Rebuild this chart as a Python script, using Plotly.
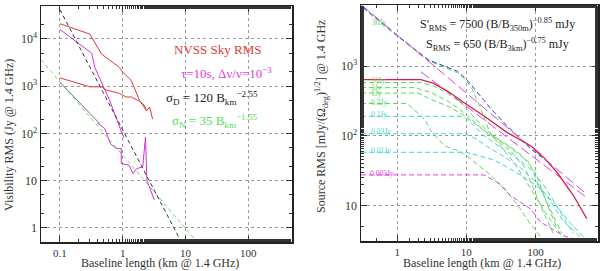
import plotly.graph_objects as go
import numpy as np

# ---------------- Left panel data ----------------
nvss_upper_x = [0.1, 0.3, 0.46, 0.89, 1.0, 1.37, 1.86, 2.37]
nvss_upper_y = [21000, 12700, 4800, 2500, 2000, 1320, 500, 310]
nvss_lower_x = [0.1, 0.3, 0.46, 0.55, 0.89, 1.13, 1.37, 1.86, 2.2, 2.4, 2.7, 3.0]
nvss_lower_y = [1500, 970, 970, 830, 705, 590, 590, 480, 400, 300, 360, 200]
tau_upper_x = [0.1, 0.32, 0.36, 0.49, 0.62, 0.98, 1.05]
tau_upper_y = [16000, 5000, 2500, 960, 500, 100, 80]
gray_x = [0.1, 0.43]
gray_y = [1210, 162]
tau_lower_x = [0.40, 0.52, 0.64, 0.79, 0.95, 0.95, 1.28, 1.45, 1.68, 2.09, 2.31, 2.37, 2.44, 3.2]
tau_lower_y = [166, 126, 60, 48, 48, 23, 21, 14, 18, 19.5, 83, 32, 10, 3.9]
sigD_x = [0.1, 8.0]
sigD_y = [42000, 0.6]
sigN_x = [0.05, 14.0]
sigN_y = [3640, 0.58]

# ---------------- Right panel data ----------------
sprime_x = [0.31, 550]
sprime_y = [7400, 14.5]
srms_x = [2.2, 550]
srms_y = [830, 13.0]
blue_x = [0.32, 0.92, 2.8, 4.8, 7.5, 10.4, 16, 23, 39, 85, 130]
blue_y = [7000, 2950, 1230, 990, 840, 620, 370, 240, 138, 65, 47]
red_x = [0.3, 2.2, 3.3, 5.4, 9.3, 18, 39, 85, 105, 131, 204, 355, 550]
red_y = [638, 638, 570, 434, 297, 192, 111, 72, 60, 49, 30, 13.8, 6.5]

flux_labels = ["30Jy", "10Jy", "3Jy", "1Jy", "0.3Jy", "0.1Jy", "0.03Jy", "0.01Jy", "0.003Jy"]
flux_x = [
    [0.32, 0.9, 2.8, 4.8, 7.5, 10, 12, 16, 22, 30, 50, 90, 150, 250],
    [0.3, 2.2, 3.5, 5.5, 9, 12, 18, 28, 45, 80, 110, 160, 240],
    [0.3, 1.8, 3, 5, 8, 12, 20, 35, 60, 100, 140, 200],
    [0.3, 2.0, 3.1, 5.4, 9, 13, 20, 28, 44, 70, 100, 130, 180],
    [0.3, 1.4, 2.5, 3.1, 4.8, 8, 10, 14, 20, 35, 60, 90, 120],
    [0.3, 9, 12, 18, 30, 50, 80, 130, 200, 350],
    [0.3, 9.5, 14, 20, 35, 60, 100, 160, 250, 450],
    [0.3, 10, 15, 25, 40, 70, 120, 200, 300, 500],
    [0.3, 18, 28, 44, 85, 118, 253, 400],
]
flux_y = [
    [6800, 2900, 1200, 950, 800, 620, 480, 250, 110, 75, 40, 16, 7, 3.5],
    [580, 580, 510, 400, 280, 200, 130, 90, 65, 42, 20, 9, 4],
    [490, 490, 420, 330, 240, 170, 110, 80, 55, 30, 12, 5],
    [410, 410, 330, 266, 200, 150, 110, 85, 60, 35, 15, 8, 4],
    [290, 290, 172, 117, 72, 60, 52, 40, 30, 18, 9, 5, 3.5],
    [190, 190, 150, 100, 70, 50, 35, 20, 10, 4],
    [107, 107, 90, 70, 50, 35, 22, 12, 6, 3.5],
    [58, 58, 52, 45, 35, 25, 17, 10, 6, 3.5],
    [27.5, 27.5, 21.5, 13.8, 8.9, 5.8, 3.7, 3.2],
]
GREEN = "#5cd85c"
CYAN = "#3fd6d6"
MAG = "#e040e0"
flux_colors = [GREEN, GREEN, GREEN, GREEN, GREEN, CYAN, CYAN, CYAN, MAG]
# label positions in pixels (style)
flux_label_px = [(371, 22), (370, 81), (370, 87.5), (370, 94), (370, 102),
                 (370, 114), (370, 131), (370, 150), (369, 173)]

FONT = "Liberation Serif"
W, H = 600, 271
TXT = "#333333"

fig = go.Figure()

def add(x, y, xa, ya, color, dash=None, width=1.0):
    fig.add_trace(go.Scatter(x=x, y=y, mode="lines", xaxis=xa, yaxis=ya,
                             line=dict(color=color, width=width, dash=dash),
                             showlegend=False, hoverinfo="skip"))

# left panel
add(sigN_x, sigN_y, "x", "y", "#66dd66", "4px,3px")
add(gray_x, gray_y, "x", "y", "#777777")
add(tau_lower_x, tau_lower_y, "x", "y", "#d830d8")
add(tau_upper_x, tau_upper_y, "x", "y", "#d830d8")
add(nvss_upper_x, nvss_upper_y, "x", "y", "#e03a3a")
add(nvss_lower_x, nvss_lower_y, "x", "y", "#e03a3a")
add(sigD_x, sigD_y, "x", "y", "#333344", "4px,3px")

# right panel
for fx, fy, c in zip(flux_x, flux_y, flux_colors):
    add(fx, fy, "x2", "y2", c, "5px,3px")
add(blue_x, blue_y, "x2", "y2", "#3344cc", "5px,3px")
add(sprime_x, sprime_y, "x2", "y2", MAG, "10px,4px")
add(srms_x, srms_y, "x2", "y2", MAG, "10px,4px")
add(red_x, red_y, "x2", "y2", "#d8204a", None, 1.3)

def axis_common(fs=12):
    return dict(type="log", showline=True, linecolor="#222", linewidth=1.5,
                mirror="allticks", ticks="inside", ticklen=6, tickcolor="#333",
                showgrid=True, gridcolor="#999", griddash="dot", gridwidth=1,
                zeroline=False, tickfont=dict(family=FONT, size=fs, color=TXT),
                minor=dict(ticks="inside", ticklen=3, tickcolor="#333", showgrid=False),
                automargin=False)

xl = axis_common(11); xl.update(domain=[41/W, 292/W], range=[np.log10(0.05), np.log10(500)],
                                tickvals=[0.1, 1, 10, 100], ticktext=["0.1", "1", "10", "100"],
                                anchor="y")
yl = axis_common(); yl.update(domain=[1-242/H, 1-6/H], range=[np.log10(0.5), np.log10(50000)],
                              tickvals=[1, 10, 100, 1000, 10000],
                              ticktext=["1", "10", "10<sup>2</sup>", "10<sup>3</sup>", "10<sup>4</sup>"],
                              anchor="x")
xr = axis_common(11); xr.update(domain=[361/W, 598/W], range=[np.log10(0.3), np.log10(800)],
                                tickvals=[1, 10, 100], ticktext=["1", "10", "100"],
                                anchor="y2")
yr = axis_common(); yr.update(domain=[1-241/H, 1-5/H], range=[np.log10(3.1), np.log10(7500)],
                              tickvals=[10, 100, 1000],
                              ticktext=["10", "10<sup>2</sup>", "10<sup>3</sup>"],
                              anchor="x2")

annotations = []
def ann(text, px, py, color, size=13, xanchor="center", angle=0, yanchor="middle"):
    annotations.append(dict(text=text, x=px/W, y=1-py/H, xref="paper", yref="paper",
                            showarrow=False, xanchor=xanchor, yanchor=yanchor,
                            textangle=angle, borderpad=0,
                            font=dict(family=FONT, size=size, color=color)))

# axis titles
ann("Baseline length (km @ 1.4 GHz)", 160, 271, TXT, 12, yanchor="bottom")
ann("Baseline length (km @ 1.4 GHz)", 482, 271, TXT, 12, yanchor="bottom")
ann("Visibility RMS (Jy @ 1.4 GHz)", 9, 135, TXT, 12, angle=-90)
ann("Source RMS [mJy/(Ω<sub>deg</sub>)<sup>1/2</sup>] @ 1.4 GHz", 322, 117, TXT, 12, angle=-90)

ann("NVSS Sky RMS", 217, 49, "#e03a3a")
ann("τ=10s, Δν/ν=10<sup>−3</sup>", 226, 73, "#e040e0")
ann("σ<sub>D</sub> = 120 B<sub>km</sub><sup>−2.55</sup>", 212, 98, "#222222")
ann("σ<sub>N</sub> = 35 B<sub>km</sub><sup>−1.55</sup>", 214, 121, "#55dd55")
ann("S'<sub>RMS</sub> = 7500 (B/B<sub>350m</sub>)<sup>−0.85</sup> mJy", 497, 25, "#222222", 12)
ann("S<sub>RMS</sub> = 650 (B/B<sub>3km</sub>)<sup>−0.75</sup> mJy", 497, 45, "#222222", 12)
for lab, (px, py), c in zip(flux_labels, flux_label_px, flux_colors):
    ann(lab, px, py, c, 7.5, "left")

fig.update_layout(width=W, height=H, margin=dict(l=0, r=0, t=0, b=0),
                  paper_bgcolor="white", plot_bgcolor="white",
                  xaxis=xl, yaxis=yl, xaxis2=xr, yaxis2=yr,
                  annotations=annotations, showlegend=False)

fig.write_html("out.html", config={"displayModeBar": False, "staticPlot": True})

# remove the default page margin so the 600x271 figure fills the window
with open("out.html", "r", encoding="utf-8") as f:
    html = f.read()
html = html.replace("<head>", "<head><style>html,body{margin:0;padding:0;overflow:hidden;}</style>", 1)
with open("out.html", "w", encoding="utf-8") as f:
    f.write(html)
